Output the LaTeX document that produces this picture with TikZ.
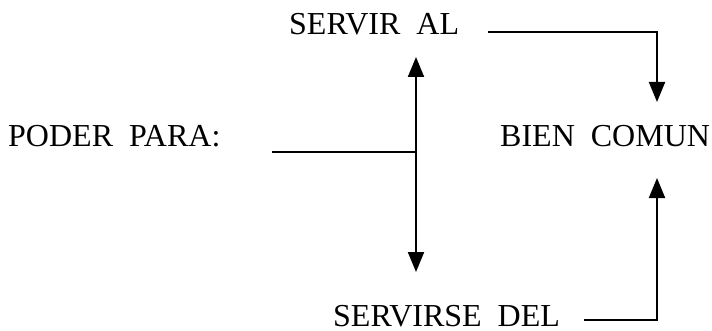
\documentclass[tikz,border=0pt]{standalone}
\usepackage{fontspec}
\setmainfont{Liberation Serif}
\usetikzlibrary{arrows.meta}
\begin{document}
\begin{tikzpicture}[x=1pt,y=1pt,
  lbl/.style={inner sep=0pt, anchor=base west, font=\fontsize{32}{36}\selectfont},
  conn/.style={line width=2pt},
  arr/.style={conn, -{Triangle[length=20pt,width=16pt]}}]
\useasboundingbox (0,0) rectangle (712,330);
\node[lbl] (servir) at (289,295) {SERVIR\ \ AL};
\node[lbl] (poder) at (8,184) {PODER\ \ PARA:};
\node[lbl] (bien) at (500,184) {BIEN\ \ COMUN};
\node[lbl] (servirse) at (333,4) {SERVIRSE\ \ DEL};
\coordinate (j) at (416,178);
\coordinate (pstart) at (272,178);
\coordinate (up) at (416,273);
\coordinate (down) at (416,58);
\coordinate (sa) at (488,298);
\coordinate (sb) at (657,298);
\coordinate (btop) at (657,228);
\coordinate (da) at (584,10);
\coordinate (db) at (657,10);
\coordinate (bbot) at (657,152);
\draw[conn] (pstart) -- (j);
\draw[arr] (j) -- (up);
\draw[arr] (j) -- (down);
\draw[arr] (sa) -- (sb) -- (btop);
\draw[arr] (da) -- (db) -- (bbot);
\end{tikzpicture}
\end{document}
